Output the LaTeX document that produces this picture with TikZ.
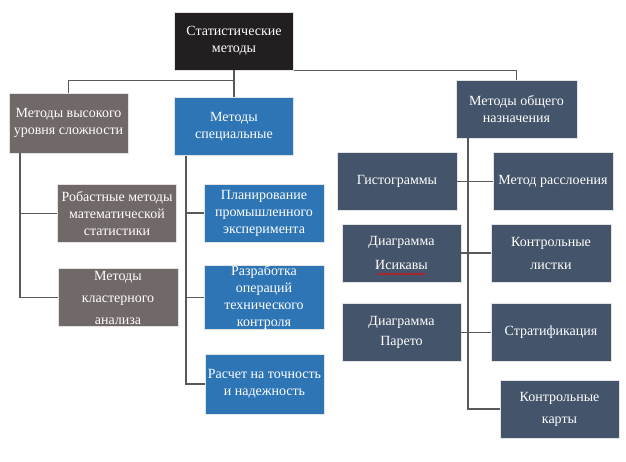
\documentclass[tikz,border=0pt]{standalone}
\usepackage{fontspec}
\setmainfont{Liberation Serif}
\usetikzlibrary{decorations.pathmorphing}
\definecolor{rootcol}{HTML}{231F20}
\definecolor{greycol}{HTML}{716967}
\definecolor{bluecol}{HTML}{2E75B6}
\definecolor{slatecol}{HTML}{44546A}
\definecolor{linecol}{HTML}{595959}
\begin{document}
\begin{tikzpicture}[x=1pt,y=-1pt,
	box/.style={draw=white!78!gray, line width=0.9pt, text=white, align=center,
		minimum width=119pt, minimum height=58pt, inner sep=2pt,
		font=\fontsize{14}{17}\selectfont},
	link/.style={draw=linecol, line width=1.1pt}]
	\useasboundingbox (0,0) rectangle (626,462);
	
	\node (root) at (234,41) [box, fill=rootcol] {Статистические\\методы};
	\node (high) at (68.5,123) [box, fill=greycol, minimum height=60pt, inner sep=0pt] {Методы высокого\\уровня сложности};
	\node (spec) at (234,126.5) [box, fill=bluecol] {Методы\\специальные};
	\node (gen) at (516.5,109) [box, fill=slatecol, minimum width=121pt] {Методы общего\\назначения};
	
	\node (robust) at (117,213.5) [box, fill=greycol, inner sep=0pt] {Робастные методы\\математической\\статистики};
	\node (cluster) at (118,297.5) [box, fill=greycol, minimum width=120pt] {Методы\\[5pt]кластерного\\[5pt]анализа};
	
	\node (plan) at (264,213) [box, fill=bluecol, minimum width=120pt] {Планирование\\промышленного\\эксперимента};
	\node (techctl) at (264,297.5) [box, fill=bluecol, minimum width=120pt, minimum height=59pt, inner sep=0pt] {Разработка\\операций\\технического\\контроля};
	\node (calc) at (264.5,384) [box, fill=bluecol, minimum height=60pt, inner sep=0pt] {Расчет на точность\\и надежность};
	
	\node (hist) at (397,181.5) [box, fill=slatecol, minimum width=120pt] {Гистограммы};
	\node (ishik) at (401.5,253) [box, fill=slatecol] {Диаграмма\\[7pt]Исикавы};
	\node (pareto) at (401.5,332.5) [box, fill=slatecol] {Диаграмма\\[3pt]Парето};
	\node (layer) at (553,181.5) [box, fill=slatecol, minimum width=120pt, inner sep=0pt] {Метод расслоения};
	\node (sheets) at (551,253) [box, fill=slatecol, minimum width=120pt] {Контрольные\\[6pt]листки};
	\node (strat) at (551,332.5) [box, fill=slatecol, minimum width=120pt] {Стратификация};
	\node (charts) at (559.5,409) [box, fill=slatecol] {Контрольные\\[5pt]карты};
	
	\draw[red, line width=0.6pt, decorate, decoration={snake, amplitude=0.8pt, segment length=3pt}]
		([xshift=-24,yshift=-21]ishik.center) -- ([xshift=24,yshift=-21]ishik.center);
	
	\draw[link] (root.south) -- (spec.north);
	\draw[link] (root.south) ++(0,10) -| (high.north);
	\draw[link] (root.south east) -| (gen.north);
	
	\draw[link] ([xshift=-48.5]high.south) |- (robust.west);
	\draw[link] ([xshift=-48.5]high.south) |- (cluster.west);
	
	\draw[link] ([xshift=-48]spec.south) |- (plan.west);
	\draw[link] ([xshift=-48]spec.south) |- (techctl.west);
	\draw[link] ([xshift=-48]spec.south) |- (calc.west);
	
	\draw[link] ([xshift=-48.5]gen.south) |- (charts.west);
	\draw[link] (hist.east) -- (layer.west);
	\draw[link] (ishik.east) -- (sheets.west);
	\draw[link] (pareto.east) -- (strat.west);
\end{tikzpicture}
\end{document}
